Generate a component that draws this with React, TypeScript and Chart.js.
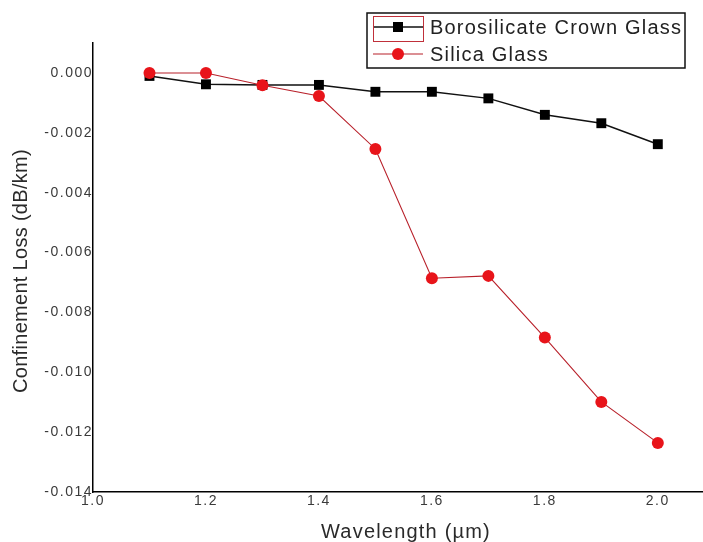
import React, { useEffect, useRef } from "react";
import { Chart, registerables } from "chart.js";

Chart.register(...registerables);

const wavelengths = [1.1, 1.2, 1.3, 1.4, 1.5, 1.6, 1.7, 1.8, 1.9, 2.0];
const borosilicate = [-0.0001, -0.00038, -0.0004, -0.0004, -0.00063, -0.00063, -0.00085, -0.0014, -0.00168, -0.00238];
const silica = [0.0, 0.0, -0.00041, -0.00077, -0.00254, -0.00686, -0.00678, -0.00884, -0.01099, -0.01236];
const xTicks = [1.0, 1.2, 1.4, 1.6, 1.8, 2.0];
const yTicks = [0, -0.002, -0.004, -0.006, -0.008, -0.01, -0.012, -0.014];
const seriesNames = ["Borosilicate Crown Glass", "Silica Glass"];
const xTitle = "Wavelength (\u00b5m)";
const yTitle = "Confinement Loss (dB/km)";

const FONT = "'Liberation Sans', Arial, sans-serif";

const overlayPlugin = {
  id: "overlay",
  beforeDraw(chart: any) {
    (chart.ctx as any).letterSpacing = "1.5px";
  },
  afterDraw(chart: any) {
    const ctx = chart.ctx as any;
    ctx.save();
    // axis titles
    ctx.fillStyle = "#2a2a2a";
    ctx.font = `20px ${FONT}`;
    ctx.letterSpacing = "1.2px";
    ctx.textAlign = "center";
    ctx.textBaseline = "middle";
    ctx.fillText(xTitle, 406, 532);
    ctx.save();
    ctx.translate(21, 271);
    ctx.rotate(-Math.PI / 2);
    ctx.letterSpacing = "0.3px";
    ctx.fillText(yTitle, 0, 0);
    ctx.restore();

    // legend
    const bx = 367, by = 13, bw = 318, bh = 55;
    ctx.fillStyle = "#ffffff";
    ctx.fillRect(bx, by, bw, bh);
    ctx.strokeStyle = "#111";
    ctx.lineWidth = 1.5;
    ctx.strokeRect(bx, by, bw, bh);

    const ds = chart.data.datasets;
    const rows = [27, 54];
    ds.forEach((d: any, i: number) => {
      const y = rows[i];
      ctx.strokeStyle = d.borderColor;
      ctx.lineWidth = d.borderWidth;
      ctx.beginPath();
      ctx.moveTo(373, y);
      ctx.lineTo(423, y);
      ctx.stroke();
      ctx.fillStyle = d.pointBackgroundColor;
      if (d.pointStyle === "rect") {
        ctx.fillRect(393, y - 5, 10, 10);
      } else {
        ctx.beginPath();
        ctx.arc(398, y, 6, 0, Math.PI * 2);
        ctx.fill();
      }
      ctx.fillStyle = "#222";
      ctx.font = `20px ${FONT}`;
      ctx.letterSpacing = "1.2px";
      ctx.textAlign = "left";
      ctx.textBaseline = "middle";
      ctx.fillText(d.label, 430, y + 1);
    });
    // red selection box around first sample
    ctx.strokeStyle = "#c0303a";
    ctx.lineWidth = 1;
    ctx.strokeRect(373.5, 16.5, 50, 25);
    ctx.restore();
  },
};

export default function App() {
  const ref = useRef<HTMLCanvasElement | null>(null);
  useEffect(() => {
    document.body.style.margin = "0";
    if (!ref.current) return;
    const chart = new Chart(ref.current, {
      type: "line",
      data: {
        datasets: [
          {
            label: seriesNames[0],
            data: wavelengths.map((x, i) => ({ x, y: borosilicate[i] })),
            borderColor: "#111111",
            backgroundColor: "#000000",
            pointBackgroundColor: "#000000",
            pointBorderColor: "#000000",
            pointStyle: "rect",
            pointRadius: 7,
            pointBorderWidth: 0,
            borderWidth: 1.5,
            order: 1,
          },
          {
            label: seriesNames[1],
            data: wavelengths.map((x, i) => ({ x, y: silica[i] })),
            borderColor: "#b8202a",
            backgroundColor: "#e8141a",
            pointBackgroundColor: "#e8141a",
            pointBorderColor: "#e8141a",
            pointStyle: "circle",
            pointRadius: 6,
            pointBorderWidth: 0,
            borderWidth: 1.1,
            order: 0,
          },
        ] as any,
      },
      options: {
        animation: false,
        responsive: false,
        devicePixelRatio: 1,
        layout: { autoPadding: false, padding: { top: 43, right: 0, left: 0, bottom: 0 } },
        plugins: { legend: { display: false }, tooltip: { enabled: false } },
        scales: {
          x: {
            type: "linear",
            min: 1.0,
            max: 2.08,
            afterBuildTicks: (s: any) => {
              s.ticks = xTicks.map((v) => ({ value: v }));
            },
            afterFit: (s: any) => {
              s.height = 50;
              s.paddingLeft = 0;
              s.paddingRight = 0;
            },
            grid: { display: false, drawTicks: false },
            border: { display: true, color: "#000", width: 1.5 },
            ticks: {
              padding: 1,
              color: "#3a3a3a",
              font: { family: FONT, size: 14 },
              maxRotation: 0,
              callback: (v: any) => Number(v).toFixed(1),
            },
          },
          y: {
            type: "linear",
            min: -0.014,
            max: 0.001,
            afterBuildTicks: (s: any) => {
              s.ticks = yTicks.map((v) => ({ value: v }));
            },
            afterFit: (s: any) => {
              s.width = 93;
              s.paddingTop = 0;
              s.paddingBottom = 0;
            },
            grid: { display: false, drawTicks: false },
            border: { display: true, color: "#000", width: 1.5 },
            ticks: {
              padding: 0,
              color: "#3a3a3a",
              font: { family: FONT, size: 14 },
              callback: (v: any) => Number(v).toFixed(3).replace("-0.000", "0.000"),
            },
          },
        },
      } as any,
      plugins: [overlayPlugin],
    });
    return () => chart.destroy();
  }, []);
  return <canvas ref={ref} width={703} height={542} style={{ display: "block" }} />;
}
